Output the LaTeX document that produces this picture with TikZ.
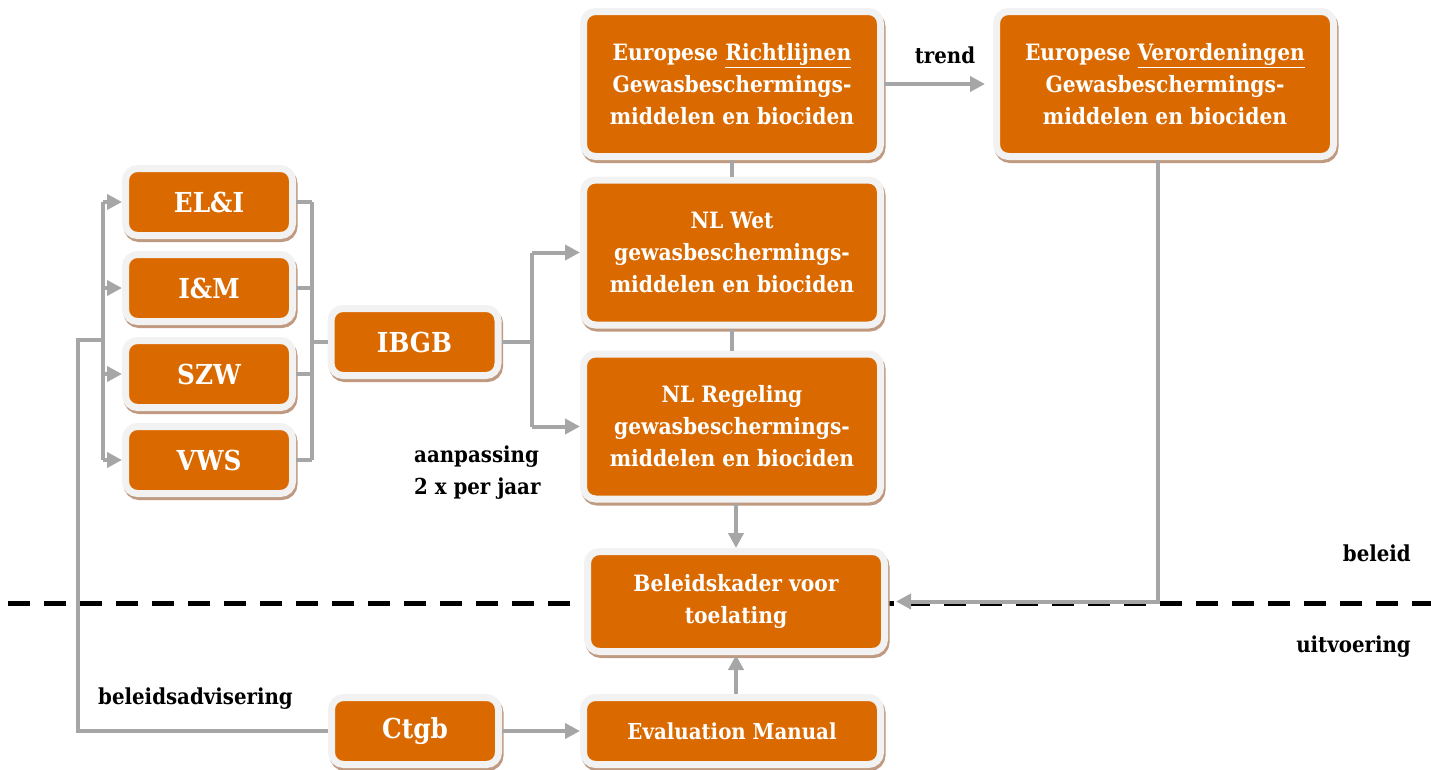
\documentclass[tikz,border=0pt]{standalone}
\usepackage{fontspec}
\setmainfont{DejaVu Serif Condensed}
\usetikzlibrary{arrows.meta,chains,positioning,shadows}
\definecolor{boxorange}{RGB}{218,106,0}
\definecolor{boxrim}{RGB}{242,242,242}
\definecolor{boxshade}{RGB}{192,154,128}
\definecolor{linkgrey}{RGB}{166,166,166}
\tikzset{orgbox/.style={rectangle, rounded corners=12pt, fill=boxorange, draw=boxrim, line width=7pt, text=white, align=center, inner sep=0pt, font=\fontsize{22.5}{32}\selectfont\bfseries, drop shadow={shadow xshift=1.5pt, shadow yshift=-3pt, fill=boxshade, draw=boxshade, opacity=1}},
  smallbox/.style={orgbox, minimum width=167pt, minimum height=67pt, font=\fontsize{27.5}{30}\selectfont\bfseries},
  bigbox/.style={orgbox, minimum width=297pt, minimum height=145pt},
  link/.style={draw=linkgrey, line width=4pt},
  arrowlink/.style={link, -{Triangle[length=15pt,width=15pt]}},
  tag/.style={font=\fontsize{22}{32}\selectfont\bfseries, text=black, inner sep=0pt}}

\begin{document}
\begin{tikzpicture}[x=1pt, y=-1pt, start chain=going below, node distance=12pt]
    \useasboundingbox (0,0) rectangle (1431,769);
    % grens beleid / uitvoering
    \draw[line width=5pt, dash pattern=on 22pt off 14pt] (8,603) -- (1431,603);

    % ministeries
    \node[smallbox,on chain] (ELI) at (209,202) {EL\&I};
    \node[smallbox,on chain] (IM) {I\&M};
    \node[smallbox,on chain] (SZW) {SZW};
    \node[smallbox,on chain] (VWS) {VWS};
    \node[smallbox] (IBGB) at (414.5,342) {IBGB};
    \node[smallbox] (Ctgb) at (415,731) {Ctgb};

    % regelgeving
    \node[bigbox] (EuRL) at (732,84) {Europese \underline{Richtlijnen}\\Gewasbeschermings-\\middelen en biociden};
    \node[bigbox] (NLWet) at (732,252.5) {NL Wet\\gewasbeschermings-\\middelen en biociden};
    \node[bigbox] (NLReg) at (732,426.5) {NL Regeling\\gewasbeschermings-\\middelen en biociden};
    \node[bigbox, minimum width=337pt] (EuVO) at (1165,84) {Europese \underline{Verordeningen}\\Gewasbeschermings-\\middelen en biociden};
    \node[bigbox, minimum height=100pt] (BK) at (736,601.5) {Beleidskader voor\\toelating};
    \node[smallbox, minimum width=297pt, font=\fontsize{22}{30}\selectfont\bfseries] (EvM) at (732,731) {Evaluation Manual};

    % teksten
    \node[tag] (trend) at (945,55) {trend};
    \node[tag, anchor=west, align=left] (freq) at (414,473) {aanpassing\\2 x per jaar};
    \node[tag, anchor=east] (beleid) at (1411,553) {beleid};
    \node[tag, anchor=east] (uitv) at (1411,647) {uitvoering};
    \node[tag, anchor=west] (advies) at (98,699) {beleidsadvisering};

    \coordinate (loop) at (78,340);
    \coordinate (splitL) at (103,340);
    \coordinate (joinR) at (312,342);
    \coordinate (splitM) at (532,342);

    \draw[link] (Ctgb.west) -| (loop) -- (splitL);
    \draw[link] (splitL |- ELI.west) -- (splitL |- VWS.west);
    \draw[link] (joinR |- ELI.east) -- (joinR |- VWS.east);
    \foreach \m in {ELI,IM,SZW,VWS} {
        \draw[arrowlink] (splitL |- \m.west) -- (\m.west);
        \draw[link] (\m.east) -- (joinR |- \m.east);
    }
    \draw[link] (joinR) -- (IBGB.west);
    \draw[link] (IBGB.east) -- (splitM);
    \draw[link] (splitM |- NLWet.west) -- (splitM |- NLReg.west);
    \draw[arrowlink] (splitM |- NLWet.west) -- (NLWet.west);
    \draw[arrowlink] (splitM |- NLReg.west) -- (NLReg.west);
    \draw[link] (EuRL) -- (NLWet);
    \draw[link] (NLWet) -- (NLReg);
    \draw[arrowlink] (BK.north |- NLReg.south) -- (BK.north);
    \draw[arrowlink] (BK.south |- EvM.north) -- (BK.south);
    \draw[arrowlink] (Ctgb) -- (EvM);
    \draw[arrowlink, shorten >=8pt] (EuRL) -- (EuVO);
    \draw[arrowlink, shorten >=8pt] ([xshift=-7pt]EuVO.south) |- (BK.east);
\end{tikzpicture}
\end{document}
